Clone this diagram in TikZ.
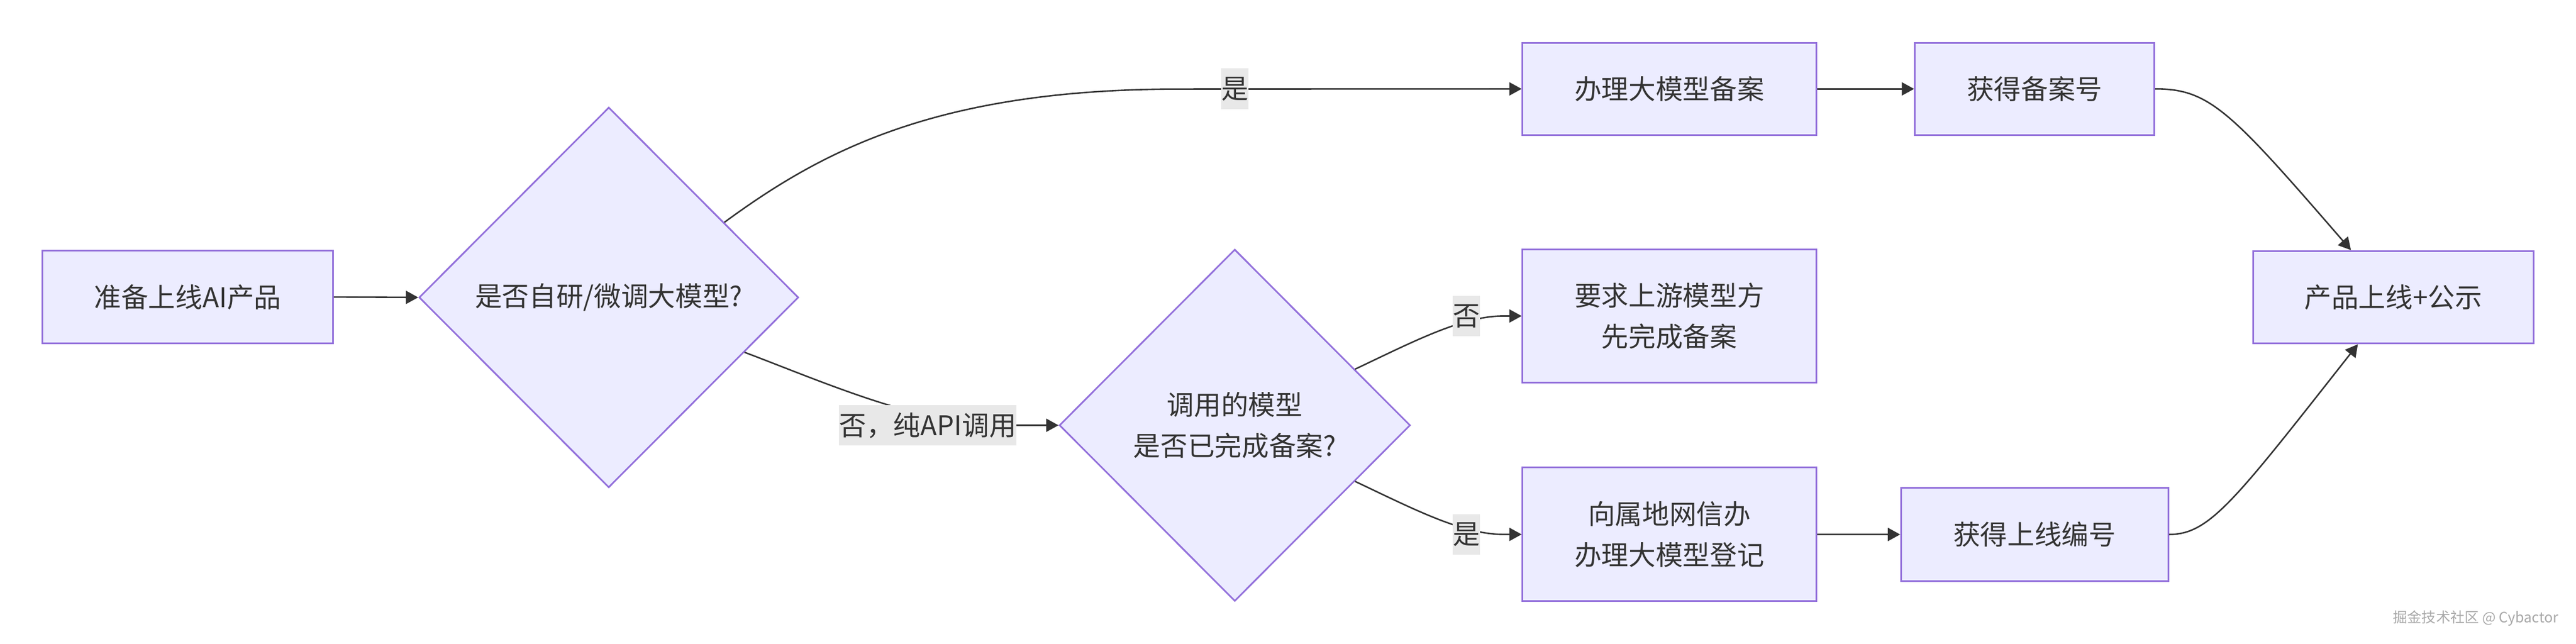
\documentclass[tikz,border=0pt]{standalone}
\usepackage{fontspec}
\setmainfont{Noto Sans CJK SC}
\usetikzlibrary{arrows.meta,shapes.geometric}
\definecolor{nodefill}{HTML}{ECECFF}
\definecolor{nodeline}{HTML}{9370DB}
\definecolor{edgecol}{HTML}{333333}
\definecolor{lblfill}{HTML}{E8E8E8}
\definecolor{txtcol}{HTML}{333333}
\definecolor{wmcol}{HTML}{A8A8A8}
\newcommand{\mainfs}{\fontsize{16.5pt}{24.8pt}\selectfont}
\begin{document}
\begin{tikzpicture}[x=1pt,y=-1pt,
  box/.style={rectangle,draw=nodeline,fill=nodefill,line width=1pt,inner sep=0pt,align=center,text=txtcol,font=\mainfs},
  dia/.style={diamond,aspect=1,draw=nodeline,fill=nodefill,line width=1pt,inner sep=0pt,align=center,text=txtcol,font=\mainfs},
  edge/.style={draw=edgecol,line width=0.9pt,-{Triangle[length=7.5pt,width=8pt]}},
  lbl/.style={fill=lblfill,inner sep=0pt,minimum height=24.8pt,text=txtcol,font=\mainfs}]
\useasboundingbox (0,0) rectangle (1568,391.57);
\fill[white] (0,0) rectangle (1568,391.57);

% nodes
\node[box,minimum width=176.9pt,minimum height=56.5pt] (A) at (114.25,180.75) {准备上线AI产品};
\node[dia,minimum width=231pt,minimum height=231.4pt] (B) at (370.55,181) {是否自研/微调大模型?};
\node[box,minimum width=178.9pt,minimum height=56.2pt] (C) at (1016.15,54.1) {办理大模型备案};
\node[box,minimum width=145.7pt,minimum height=56.2pt] (D) at (1238.45,54.1) {获得备案号};
\node[box,minimum width=170.8pt,minimum height=56.3pt] (E) at (1456.8,180.85) {产品上线+公示};
\node[dia,minimum width=213.6pt,minimum height=214.1pt] (F) at (751.6,258.8) {调用的模型\\是否已完成备案?};
\node[box,minimum width=178.9pt,minimum height=81pt] (G) at (1016.15,192.3) {要求上游模型方\\先完成备案};
\node[box,minimum width=178.9pt,minimum height=81.4pt] (H) at (1016.15,325.2) {向属地网信办\\办理大模型登记};
\node[box,minimum width=162.7pt,minimum height=56.5pt] (I) at (1238.45,325.25) {获得上线编号};

% edges
\draw[edge] (A.east) -- (B.west);
\draw[edge] (B.33) .. controls (500,92) and (570,54.2) .. (717.8,54.2) -- (C.west);
\draw[edge] (B.-22) .. controls (500,232) and (560,258.8) .. (610,258.8) -- (F.west);
\draw[edge] (F.25) .. controls (860,208) and (890,192.3) .. (915,192.3) -- (G.west);
\draw[edge] (F.-25.6) .. controls (860,309.6) and (890,325.2) .. (915,325.2) -- (H.west);
\draw[edge] (C.east) -- (D.west);
\draw[edge] (H.east) -- (I.west);
\draw[edge] (D.east) .. controls (1345,54) and (1358,68) .. (E.132.95);
\draw[edge] (I.east) .. controls (1345,325.2) and (1360,305) .. (E.-127.5);

% edge labels
\node[lbl] (l1) at (751.6,54.1) {是};
\node[lbl] (l2) at (564.7,258.8) {否，纯API调用};
\node[lbl] (l3) at (892.6,192.3) {否};
\node[lbl] (l4) at (892.6,325.3) {是};

% watermark
\node[text=wmcol,inner sep=0pt,anchor=east,font=\fontsize{8.7pt}{10pt}\selectfont] (wm) at (1557.5,376.3) {掘金技术社区 @ Cybactor};
\end{tikzpicture}
\end{document}
